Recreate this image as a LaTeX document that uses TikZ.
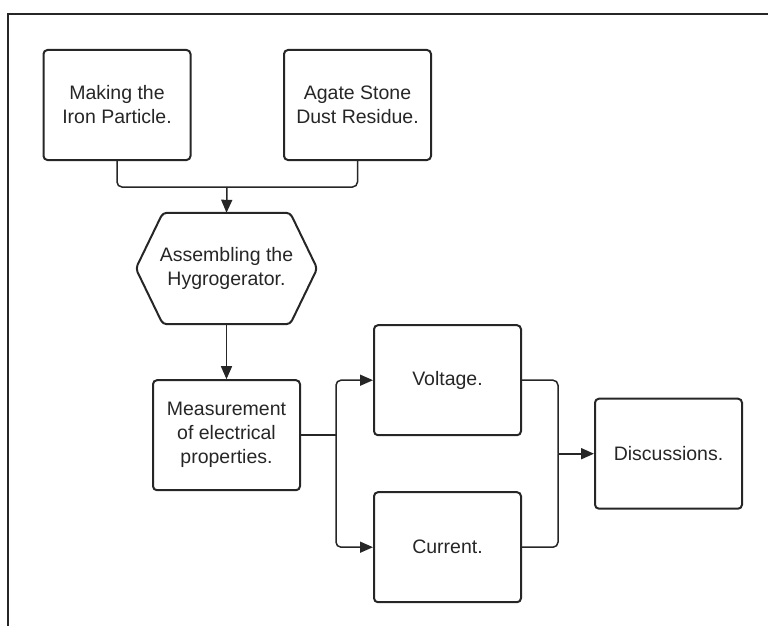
\documentclass[tikz,border=0pt]{standalone}
\usepackage{fontspec}
\setmainfont{Liberation Sans}
\usetikzlibrary{arrows.meta,positioning,calc}
\definecolor{ink}{HTML}{262626}

\begin{document}
\begin{tikzpicture}[x=1pt, y=-1pt, node distance=55pt, auto]

% Define styles
\tikzstyle{stepbox} = [rectangle, rounded corners=4pt, minimum width=147pt, minimum height=110pt, text centered, align=center, draw=ink, text=ink, line width=2pt, font=\fontsize{19.5}{24}\selectfont]
\tikzstyle{hexbox} = [rectangle, minimum width=181pt, minimum height=111pt, align=center, text=ink, font=\fontsize{19.5}{24}\selectfont]
\tikzstyle{link} = [line width=1.5pt, draw=ink, rounded corners=5pt]
\tikzstyle{arrow} = [link, -{Triangle[length=13pt, width=11pt]}]

\useasboundingbox (0,0) rectangle (768,626);

% FRAME
\draw [line width=2.5pt, ink] (768,14) -- (8,14) -- (8,626);

% INPUTS
\node (iron) [stepbox] at (117,105) {Making the\\Iron Particle.};
\node (agate) [stepbox, right=91.5pt of iron] {Agate Stone\\Dust Residue.};

% ASSEMBLY
\node (hygro) [hexbox] at (226.5,268.5) {Assembling the\\Hygrogerator.};
\draw [line width=2pt, ink, rounded corners=4pt] ($(hygro.north west)+(27,0)$) -- ($(hygro.north east)+(-27,0)$) -- (hygro.east)
  -- ($(hygro.south east)+(-27,0)$) -- ($(hygro.south west)+(27,0)$) -- (hygro.west) -- cycle;
\coordinate (join) at (227,187);
\draw [link] (iron.south) |- (join);
\draw [link] (agate.south) |- (join);
\draw [arrow] (join) -- (hygro.north);

% MEASUREMENT
\node (meas) [stepbox, below=55pt of hygro] {Measurement\\of electrical\\properties.};
\draw [arrow] (hygro) -- (meas);

% RESULTS
\node (volt) [stepbox, right=72pt of meas, yshift=55pt] {Voltage.};
\node (curr) [stepbox, below=55pt of volt] {Current.};
\coordinate (split) at ($(meas.east)+(35,0)$);
\draw [link] (meas.east) -- (split);
\draw [arrow] (split) |- (volt.west);
\draw [arrow] (split) |- (curr.west);

% DISCUSSION
\node (disc) [stepbox, right=72pt of volt, yshift=-73.5pt] {Discussions.};
\coordinate (merge) at ($(disc.west)+(-36,0)$);
\draw [link] (volt.east) -| (merge);
\draw [link] (curr.east) -| (merge);
\draw [arrow, line width=2pt] (merge) -- (disc.west);

\end{tikzpicture}
\end{document}
